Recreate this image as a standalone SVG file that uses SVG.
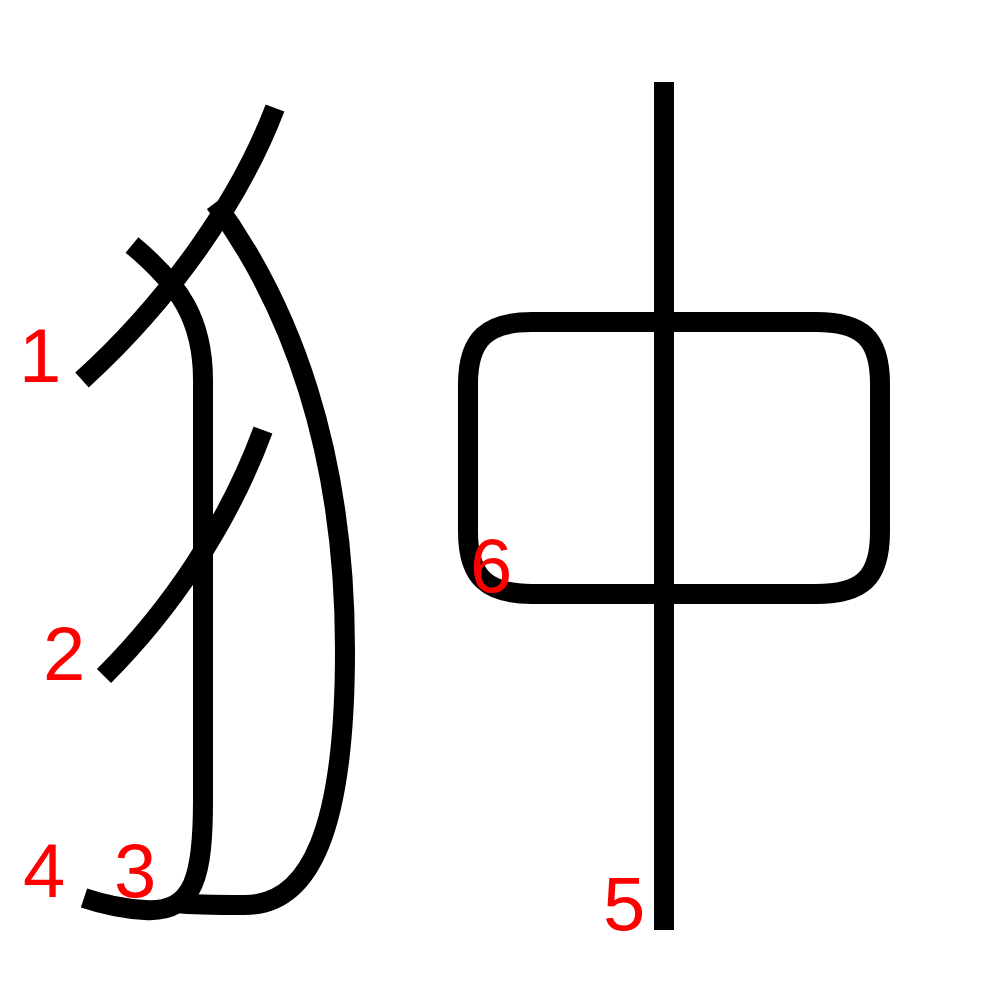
<svg xmlns="http://www.w3.org/2000/svg" width="1000" height="1000" viewBox="0 0 1000 1000">
<style>
.s{fill:none;stroke:#000;stroke-width:20;stroke-linecap:butt;stroke-linejoin:round}
.n{fill:#f00;font-family:"Liberation Sans",Arial,sans-serif;font-size:76px}
</style>
<rect width="1000" height="1000" fill="#fff"/>
<g id="strokes">
<g id="stroke1"><path class="s" d="M275,108 C240,200 170,300 82,380"/></g>
<g id="stroke2"><path class="s" d="M132,245 C180,285 203,320 203,380 L203,800 C203,875 195,913 145,910 C125,909 105,905 84,898"/></g>
<g id="stroke3"><path class="s" d="M263,430 C228,525 170,610 104,676"/></g>
<g id="stroke4"><path class="s" d="M215,203 C290,305 345,450 345,650 C345,830 310,905 245,905 C215,905 195,905 177,903"/></g>
<g id="stroke5"><line class="s" x1="664" y1="82" x2="664" y2="930"/></g>
<g id="stroke6"><path class="s" d="M468,384 C468,338 488,322 532,322 L816,322 C862,322 880,338 880,384 L880,532 C880,578 862,594 816,594 L532,594 C488,594 468,578 468,532 Z"/></g>
</g>
<g id="labels">
<text class="n" x="19" y="382">1</text>
<text class="n" x="43" y="680">2</text>
<text class="n" x="114" y="897">3</text>
<text class="n" x="23" y="897">4</text>
<text class="n" x="603" y="930">5</text>
<text class="n" x="470" y="592">6</text>
</g>
</svg>
